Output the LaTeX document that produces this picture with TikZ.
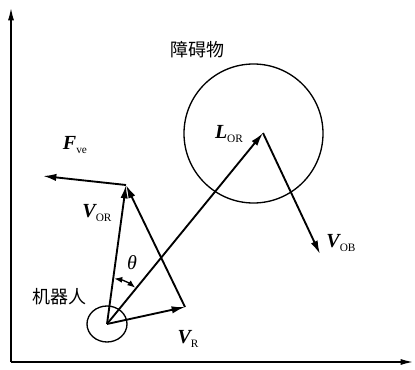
\documentclass[tikz,border=0pt]{standalone}
\usepackage{fontspec}
\setmainfont{Liberation Serif}
\newfontfamily\cjk{Noto Sans CJK SC}
\usetikzlibrary{arrows.meta}
\newcommand{\veclab}[2]{{\fontsize{15}{15}\selectfont\bfseries\itshape #1}\raisebox{-3.5pt}{\fontsize{8.5}{8.5}\selectfont #2}}

\begin{document}
\begin{tikzpicture}[x=0.75pt,y=0.75pt,
  vec/.style={line width=1.4pt,-{Latex[length=10pt,width=5.5pt]}},
  axis/.style={line width=1.4pt,-{Latex[length=10pt,width=4.5pt]}},
  ring/.style={line width=1pt},
  cn/.style={font=\cjk\fontsize{13.5}{13.5}\selectfont}]
  \useasboundingbox (0,0) rectangle (415,369);
  % axes
  \coordinate (O) at (11,7);
  \coordinate (ytop) at (11,362);
  \coordinate (xend) at (414,7);
  \draw[axis] (O) -- (ytop);
  \draw[axis] (O) -- (xend);
  % robot and obstacle
  \coordinate (R) at (107,45);
  \coordinate (obs) at (253.5,235.5);
  \coordinate (C) at (263,236);
  \draw[ring] (R) ellipse (20 and 18);
  \draw[ring] (obs) circle (69.5);
  % vectors
  \coordinate (VR) at (185,62);
  \coordinate (VOR) at (126,184);
  \coordinate (Fve) at (43,193);
  \coordinate (VOB) at (320,115);
  \draw[vec] (R) -- (VR);
  \draw[vec] (R) -- (VOR);
  \draw[vec] (VR) -- (VOR);
  \draw[vec] (VOR) -- (Fve);
  \draw[vec] (R) -- (C);
  \draw[vec] (C) -- (VOB);
  \draw[ring,{Latex[length=6pt,width=4.5pt]}-{Latex[length=6pt,width=4.5pt]}] ([shift={(52:46)}]R) arc (52:81:46);
  % labels
  \node[cn] (obslab) at (198,319) {障碍物};
  \node[cn] (robotlab) at (59,72) {机器人};
  \node (lorlab) at (229,235) {\veclab{L}{OR}};
  \node (voblab) at (341,126) {\veclab{V}{OB}};
  \node (fvelab) at (75,224) {\veclab{F}{ve}};
  \node (vorlab) at (97,156) {\veclab{V}{OR}};
  \node (vrlab) at (188,30) {\veclab{V}{R}};
  \node (thetalab) at (132,106) {\fontsize{15}{15}\selectfont\itshape θ};
\end{tikzpicture}
\end{document}
